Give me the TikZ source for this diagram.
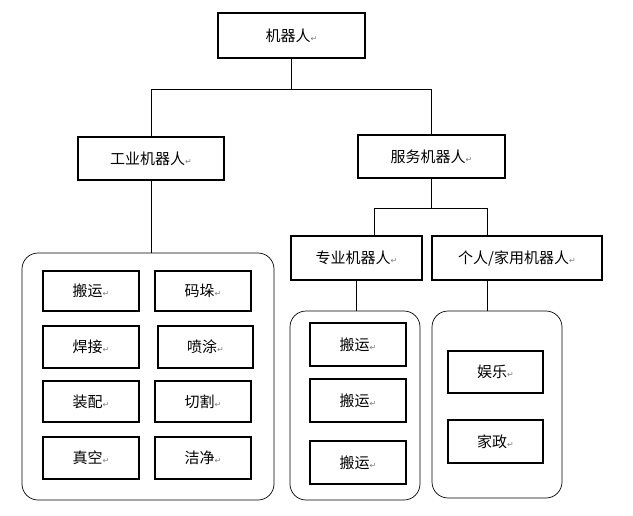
\documentclass[tikz,border=0pt]{standalone}
\usepackage{fontspec}
\setmainfont{Noto Sans CJK SC}
\newfontfamily\symfont{DejaVu Sans}
\usetikzlibrary{positioning, calc}
\newcommand{\rt}{{\symfont\fontsize{8}{8}\selectfont\color{gray}↵}}
\tikzset{
    box/.style={rectangle, draw=black, line width=2.2pt, fill=white, align=center, font=\fontsize{15}{17}\selectfont},
    group/.style={rectangle, draw=black, line width=0.7pt, rounded corners=16pt},
    link/.style={draw=black, line width=0.7pt}
}
\begin{document}
\begin{tikzpicture}[x=1pt, y=-1pt]
    \useasboundingbox (0,0) rectangle (633,515);
    % --- top levels ---
    \node[box, minimum width=147pt, minimum height=45pt] (root) at (291.5,35.5) {机器人\rt};
    \node[box, minimum width=146pt, minimum height=43pt] (ind) at (151,158.5) {工业机器人\rt};
    \node[box, minimum width=147pt, minimum height=43pt] (srv) at (431.5,156.5) {服务机器人\rt};
    \node[box, minimum width=131pt, minimum height=44pt] (pro) at (356.5,258) {专业机器人\rt};
    \node[box, minimum width=170pt, minimum height=44pt] (home) at (517,258) {个人/家用机器人\rt};

    % --- groups ---
    \node[group, minimum width=252pt, minimum height=247pt] (gind) at (148,376.5) {};
    \node[group, minimum width=130pt, minimum height=189pt] (gpro) at (355,405.5) {};
    \node[group, minimum width=130pt, minimum height=187pt] (ghome) at (497,404.5) {};

    % --- industrial tasks ---
    \node[box, minimum width=96pt, minimum height=40pt] (t1) at (91,291) {搬运\rt};
    \node[box, minimum width=96pt, minimum height=40pt] (t2) at (203,291) {码垛\rt};
    \node[box, minimum width=96pt, minimum height=42pt] (t3) at (91,347) {焊接\rt};
    \node[box, minimum width=95pt, minimum height=42pt] (t4) at (205.5,347) {喷涂\rt};
    \node[box, minimum width=96pt, minimum height=41pt] (t5) at (91,401.5) {装配\rt};
    \node[box, minimum width=96pt, minimum height=41pt] (t6) at (203,401.5) {切割\rt};
    \node[box, minimum width=96pt, minimum height=42pt] (t7) at (91,458) {真空\rt};
    \node[box, minimum width=96pt, minimum height=42pt] (t8) at (203,458) {洁净\rt};

    % --- professional tasks ---
    \node[box, minimum width=96pt, minimum height=43pt] (p1) at (358,344.5) {搬运\rt};
    \node[box, minimum width=96pt, minimum height=43pt] (p2) at (358,400.5) {搬运\rt};
    \node[box, minimum width=96pt, minimum height=43pt] (p3) at (358,462.5) {搬运\rt};

    % --- home tasks ---
    \node[box, minimum width=95pt, minimum height=42pt] (h1) at (495.5,372) {娱乐\rt};
    \node[box, minimum width=95pt, minimum height=43pt] (h2) at (495.5,441.5) {家政\rt};

    % --- connectors ---
    \coordinate (j1) at ($(root.south)+(0,30)$);
    \draw[link] (root.south) -- (j1);
    \draw[link] (ind.north) |- (j1) -| (srv.north);
    \draw[link] (ind.south) -- (ind.south |- gind.north);
    \coordinate (j2) at ($(srv.south)+(0,29)$);
    \coordinate (pin) at (374,236);
    \coordinate (hin) at (487,236);
    \coordinate (hout) at (487,280);
    \draw[link] (srv.south) -- (j2);
    \draw[link] (pin) |- (j2) -| (hin);
    \draw[link] (pro.south) -- (pro.south |- gpro.north);
    \draw[link] (hout) -- (hout |- ghome.north);
\end{tikzpicture}
\end{document}
